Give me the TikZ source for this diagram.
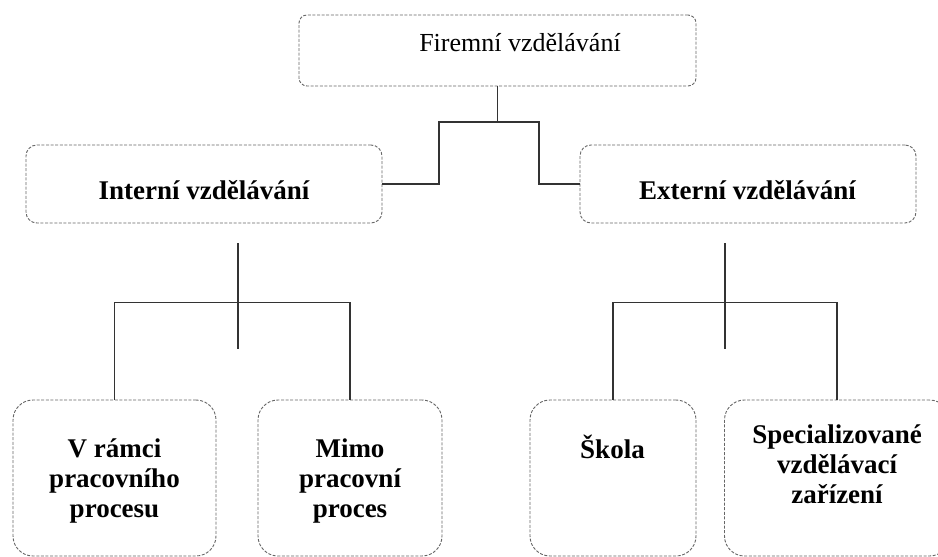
\documentclass[tikz,border=0pt]{standalone}
\usepackage{fontspec}
\setmainfont{Liberation Serif}
\begin{document}
\begin{tikzpicture}[x=1pt,y=-1pt,
  box/.style={draw=black!60, line width=0.9pt, dash pattern=on 3pt off 1.6pt, inner sep=0pt, fill=none},
  lbl/.style={inner sep=0pt, anchor=base, align=center, font=\fontsize{26}{30}\selectfont},
  blbl/.style={lbl, font=\fontsize{27}{30}\selectfont\bfseries},
  conn/.style={draw=black!80, line width=1.1pt}]
\useasboundingbox (0,0) rectangle (938,557);
\clip (0,0) rectangle (938,557);
% boxes
\node[box, rounded corners=8pt, minimum width=397pt, minimum height=71pt] (top) at (497.5,50.5) {};
\node[box, rounded corners=11pt, minimum width=356pt, minimum height=78pt] (imid) at (204,184) {};
\node[box, rounded corners=11pt, minimum width=336pt, minimum height=78pt] (emid) at (748,184) {};
\node[box, rounded corners=20pt, minimum width=203pt, minimum height=156pt] (b1) at (114.5,478) {};
\node[box, rounded corners=20pt, minimum width=184pt, minimum height=156pt] (b2) at (350,478) {};
\node[box, rounded corners=20pt, minimum width=166pt, minimum height=156pt] (b3) at (613,478) {};
\node[box, rounded corners=20pt, minimum width=225pt, minimum height=156pt] (b4) at (837,478) {};
% texts (anchor base = baseline of the last line)
\node[lbl] (ttop) at (520,51.7) {Firemní vzdělávání};
\node[blbl] (timid) at (204,199.3) {Interní vzdělávání};
\node[blbl] (temid) at (747.5,199.3) {Externí vzdělávání};
\node[blbl] (tb1) at (114.5,517) {V rámci\\pracovního\\procesu};
\node[blbl] (tb2) at (350,517) {Mimo\\pracovní\\proces};
\node[blbl] (tb3) at (612.5,458) {Škola};
\node[blbl] (tb4) at (837,503) {Specializované\\vzdělávací\\zařízení};
% connectors
\coordinate (c1) at (439,122);
\coordinate (c2) at (539,122);
\draw[conn] (top.south) -- (top.south |- c1);
\draw[conn] (imid.east) -| (c1) -- (c2) |- (emid.west);
\coordinate (l1) at (238,243);
\coordinate (l2) at (238,349);
\draw[conn] (l1) -- (l2);
\draw[conn] (b1.north) -- ++(0,-97) -| (b2.north);
\coordinate (r1) at (725,243);
\coordinate (r2) at (725,349);
\draw[conn] (r1) -- (r2);
\draw[conn] (b3.north) -- ++(0,-97) -| (b4.north);
\end{tikzpicture}
\end{document}
